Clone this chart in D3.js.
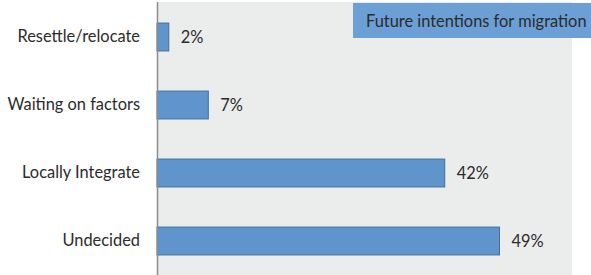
<!DOCTYPE html>
<html>
<head>
<meta charset="utf-8">
<script src="https://cdn.jsdelivr.net/npm/d3@7"></script>
<style>
  body { margin: 0; background: #ffffff; }
  svg { display: block; }
</style>
</head>
<body>
<div id="chart"></div>
<script>
// Chart data
const categories = ['Resettle/relocate', 'Waiting on factors', 'Locally Integrate', 'Undecided'];
const values = [1.7, 7.4, 41.5, 49.4];
const valueLabels = ['2%', '7%', '42%', '49%'];
const title = 'Future intentions for migration';

const width = 591;
const height = 275;
const plot = { left: 157, right: 572, top: 2, bottom: 275 };
const font = 'Lato, "Open Sans", sans-serif';
const fontSize = '16.4px';

const svg = d3.select('#chart')
  .append('svg')
  .attr('width', width)
  .attr('height', height);

// Plot background
svg.append('rect')
  .attr('x', plot.left)
  .attr('y', plot.top)
  .attr('width', plot.right - plot.left)
  .attr('height', plot.bottom - plot.top)
  .style('fill', '#ebecec');

// Scales
const x = d3.scaleLinear()
  .domain([0, 60])
  .range([plot.left, plot.left + 416]);

const y = d3.scaleBand()
  .domain(categories)
  .range([3, 275])
  .paddingInner(0.59)
  .paddingOuter(0.295);

const rows = categories.map((c, i) => ({ category: c, value: values[i], label: valueLabels[i] }));

// Bars
svg.selectAll('.bar')
  .data(rows)
  .enter()
  .append('rect')
  .attr('class', 'bar')
  .attr('x', x(0))
  .attr('y', d => y(d.category))
  .attr('width', d => x(d.value) - x(0))
  .attr('height', y.bandwidth())
  .style('fill', '#5f94cc')
  .style('stroke', '#41719c')
  .style('stroke-width', 1);

// Value labels
svg.selectAll('.value-label')
  .data(rows)
  .enter()
  .append('text')
  .attr('class', 'value-label')
  .attr('x', d => x(d.value) + 12)
  .attr('y', d => y(d.category) + y.bandwidth() / 2)
  .attr('dy', '0.35em')
  .style('font-family', font)
  .style('font-size', fontSize)
  .style('fill', '#2b2b2b')
  .text(d => d.label);

// Category axis
const yAxis = svg.append('g')
  .attr('transform', `translate(${plot.left},0)`)
  .call(d3.axisLeft(y).tickSize(0).tickPadding(17));

yAxis.select('.domain')
  .attr('d', `M0.5,${plot.top}V${plot.bottom}`)
  .style('stroke', '#8c8c8c')
  .style('stroke-width', 1.5);

yAxis.selectAll('text')
  .style('font-family', font)
  .style('font-size', fontSize)
  .style('fill', '#2b2b2b');

// Title box
svg.append('rect')
  .attr('x', 353)
  .attr('y', 3)
  .attr('width', 238)
  .attr('height', 35)
  .style('fill', '#6b9fd5');

svg.append('text')
  .attr('x', 366)
  .attr('y', 21)
  .attr('dy', '0.35em')
  .style('font-family', font)
  .style('font-size', fontSize)
  .style('fill', '#2b2b2b')
  .text(title);
</script>
</body>
</html>
